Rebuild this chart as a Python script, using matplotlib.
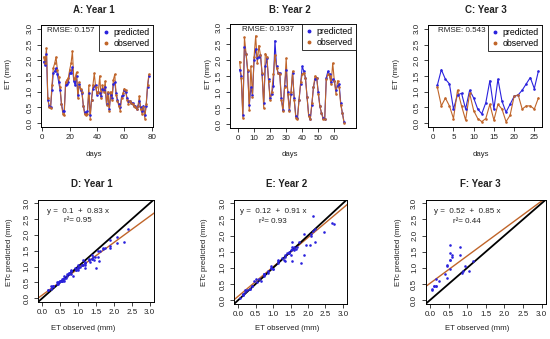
import matplotlib.pyplot as plt
import numpy as np
from matplotlib.lines import Line2D

plt.rcParams['font.family'] = ['Liberation Sans', 'DejaVu Sans']

# ---- data ----
obs1 = [2.10, 1.90, 2.38, 0.80, 0.50, 0.48, 1.20, 1.75, 1.90, 2.10,
        1.70, 1.48, 1.15, 0.60, 0.30, 0.25, 1.30, 1.38, 1.43, 1.70,
        1.90, 2.28, 1.40, 1.45, 1.62, 0.80, 1.30, 1.10, 1.00, 0.55,
        0.28, 0.25, 0.30, 1.20, 0.15, 0.75, 1.20, 1.58, 1.15, 0.95,
        1.00, 1.50, 0.80, 1.20, 1.00, 1.33, 0.58, 1.00, 0.40, 1.00,
        0.75, 1.38, 1.55, 0.90, 0.70, 0.55, 0.40, 0.80, 0.95, 1.10,
        1.05, 0.75, 0.62, 0.70, 0.65, 0.60, 0.55, 0.50, 0.45, 0.55,
        0.85, 0.45, 0.30, 0.50, 0.15, 0.60, 1.20, 1.55]
pred1 = [1.95, 1.85, 2.20, 0.75, 0.55, 0.50, 1.05, 1.60, 1.65, 1.75,
         1.55, 1.30, 1.05, 0.60, 0.40, 0.40, 1.20, 1.25, 1.30, 1.60,
         1.60, 1.78, 1.35, 1.20, 1.50, 0.90, 1.25, 1.05, 0.95, 0.55,
         0.35, 0.30, 0.40, 0.95, 0.25, 0.75, 1.10, 1.18, 1.20, 0.90,
         1.00, 0.95, 0.85, 1.10, 1.05, 1.15, 0.60, 0.95, 0.45, 0.90,
         0.80, 1.25, 1.30, 0.95, 0.75, 0.60, 0.50, 0.85, 0.90, 1.05,
         1.00, 0.80, 0.70, 0.70, 0.65, 0.65, 0.55, 0.55, 0.45, 0.55,
         0.70, 0.50, 0.40, 0.55, 0.25, 0.55, 1.15, 1.50]

obs2 = [1.95, 1.45, 0.20, 2.70, 2.20, 1.70, 0.45, 1.80, 0.85, 2.10,
        2.75, 1.90, 2.45, 2.15, 1.60, 0.50, 2.20, 2.10, 1.35, 0.75,
        1.00, 1.55, 2.15, 1.75, 1.60, 1.55, 0.75, 0.40, 1.15, 2.05,
        0.95, 0.40, 1.00, 1.65, 0.75, 0.20, 0.15, 0.75, 1.30, 1.55,
        1.60, 1.45, 0.85, 0.25, 0.15, 0.65, 1.15, 1.50, 1.45, 0.95,
        0.55, 0.35, 0.15, 0.15, 1.40, 1.55, 1.50, 1.25, 1.90, 1.35,
        0.95, 1.35, 1.15, 0.60, 0.35, 0.05]
pred2 = [1.70, 1.50, 0.30, 2.40, 2.20, 1.65, 0.60, 1.15, 0.90, 2.00,
         2.35, 2.05, 2.10, 2.15, 1.55, 0.65, 1.80, 2.05, 1.40, 0.80,
         0.95, 1.20, 2.60, 1.80, 1.60, 1.60, 0.80, 0.45, 1.20, 1.70,
         1.00, 0.45, 0.95, 1.60, 0.80, 0.25, 0.20, 0.75, 1.25, 1.80,
         1.65, 1.45, 0.85, 0.30, 0.15, 0.60, 1.15, 1.40, 1.45, 1.00,
         0.55, 0.35, 0.20, 0.15, 1.45, 1.65, 1.55, 1.30, 1.40, 1.35,
         1.05, 1.20, 1.25, 0.65, 0.35, 0.08]

obs3 = [1.15, 0.55, 0.80, 0.55, 0.15, 1.05, 0.55, 0.10, 0.95, 0.40,
        0.15, 0.05, 0.15, 0.60, 0.10, 0.60, 0.45, 0.05, 0.25, 0.85,
        0.90, 0.45, 0.55, 0.55, 0.45, 0.80]
pred3 = [1.20, 1.70, 1.40, 1.25, 0.45, 0.90, 0.95, 0.45, 1.05, 0.80,
         0.45, 0.30, 0.65, 1.35, 0.45, 1.40, 0.70, 0.35, 0.60, 0.85,
         0.90, 1.05, 1.25, 1.45, 1.10, 1.65]

rmse = ['0.157', '0.1937', '0.543']
intercepts = [0.1, 0.12, 0.52]
slopes = [0.83, 0.91, 0.85]
r2 = ['0.95', '0.93', '0.44']
top_titles = ['A: Year 1', 'B: Year 2', 'C: Year 3']
bottom_titles = ['D: Year 1', 'E: Year 2', 'F: Year 3']

BLUE = '#2a22dd'
BROWN = '#c0652a'
TXT = '#222222'

W, H = 550, 339
fig = plt.figure(figsize=(W / 100, H / 100), dpi=100)


def px_axes(l, t, r, b):
    return fig.add_axes([l / W, 1 - b / H, (r - l) / W, (b - t) / H])


def ptext(x, y, s, **kw):
    fig.text(x / W, 1 - y / H, s, ha='center', va='center', color=TXT, **kw)


def style(ax):
    for sp in ax.spines.values():
        sp.set_linewidth(0.7)
    ax.tick_params(length=2.8, width=0.6, pad=2.5, labelsize=5.8, colors=TXT)
    ax.tick_params(axis='y', labelrotation=90)
    ax.set_yticks(np.arange(0, 3.01, 0.5))
    ax.set_yticklabels(['%.1f' % v for v in np.arange(0, 3.01, 0.5)],
                       va='center')
    ax.set_ylim(-0.12, 3.12)


# ---- top row: time series ----
series = [(obs1, pred1), (obs2, pred2), (obs3, pred3)]
top_rects = [(41, 25, 153, 127), (230, 24, 356, 128), (428, 25, 542, 127)]
xlims = [(-1, 81), (-5, 73.5), (-1.3, 26.9)]
xticks = [np.arange(0, 81, 20), np.arange(0, 61, 10), np.arange(0, 26, 5)]
title_x = [94, 290, 486]
ylab_x = [8, 208, 397]
xlab_x = [94, 290, 481]
rmse_x = [3.2, 2.3, 1.2]

for i, (obs, pred) in enumerate(series):
    ax = px_axes(*top_rects[i])
    days = np.arange(1, len(obs) + 1)
    ax.plot(days, pred, color=BLUE, lw=0.8)
    ax.plot(days, obs, color=BROWN, lw=0.8)
    ax.scatter(days, pred, s=3.5, color=BLUE, lw=0, zorder=3)
    ax.scatter(days, obs, s=3.5, color=BROWN, lw=0, zorder=3)
    ax.set_xlim(*xlims[i])
    ax.set_xticks(xticks[i])
    style(ax)
    ax.text(rmse_x[i], 2.95, 'RMSE: ' + rmse[i], fontsize=5.8, color=TXT,
            va='center', ha='left')
    handles = [Line2D([], [], marker='o', ms=1.8, ls='none', color=BLUE),
               Line2D([], [], marker='o', ms=1.8, ls='none', color=BROWN)]
    leg = ax.legend(handles, ['predicted', 'observed'], loc='upper right',
                    borderaxespad=0, fontsize=6.3, frameon=True, fancybox=False,
                    handlelength=1.0, handletextpad=0.4, borderpad=0.35,
                    labelspacing=0.2)
    leg.get_frame().set_edgecolor('black')
    leg.get_frame().set_linewidth(0.7)
    ptext(title_x[i], 10, top_titles[i], fontsize=7, fontweight='bold')
    ptext(ylab_x[i], 74, 'ET (mm)', fontsize=5.6, rotation=90)
    ptext(xlab_x[i], 154, 'days', fontsize=5.6)

# ---- bottom row: predicted vs observed ----
bot_rects = [(38, 199.5, 154, 302), (234, 199.5, 347, 304), (425.5, 199.5, 546, 304)]
btitle_x = [92, 287, 480]
bylab_x = [10, 205, 398]
bxlab_x = [83, 287, 477]

for i, (obs, pred) in enumerate(series):
    ax = px_axes(*bot_rects[i])
    ax.axline((0, intercepts[i]), slope=slopes[i], color=BROWN, lw=1.0)
    ax.axline((0, 0), slope=1, color='black', lw=1.3)
    ax.scatter(obs, pred, s=3.5, color=BLUE, lw=0, zorder=3)
    ax.set_xlim(-0.12, 3.12)
    ax.set_xticks(np.arange(0, 3.01, 0.5))
    ax.set_xticklabels(['%.1f' % v for v in np.arange(0, 3.01, 0.5)])
    style(ax)
    ax.text(1.0, 2.75, 'y =  %s  +  %s x' % (intercepts[i], slopes[i]),
            fontsize=5.8, color=TXT, ha='center', va='center')
    ax.text(1.0, 2.45, 'r²= ' + r2[i], fontsize=5.8, color=TXT,
            ha='center', va='center')
    ptext(btitle_x[i], 184, bottom_titles[i], fontsize=7, fontweight='bold')
    ptext(bylab_x[i], 252, 'ETc predicted (mm)', fontsize=5.6, rotation=90)
    ptext(bxlab_x[i], 329, 'ET observed (mm)', fontsize=5.6)

fig.savefig('out.png', dpi=100, facecolor='white')
